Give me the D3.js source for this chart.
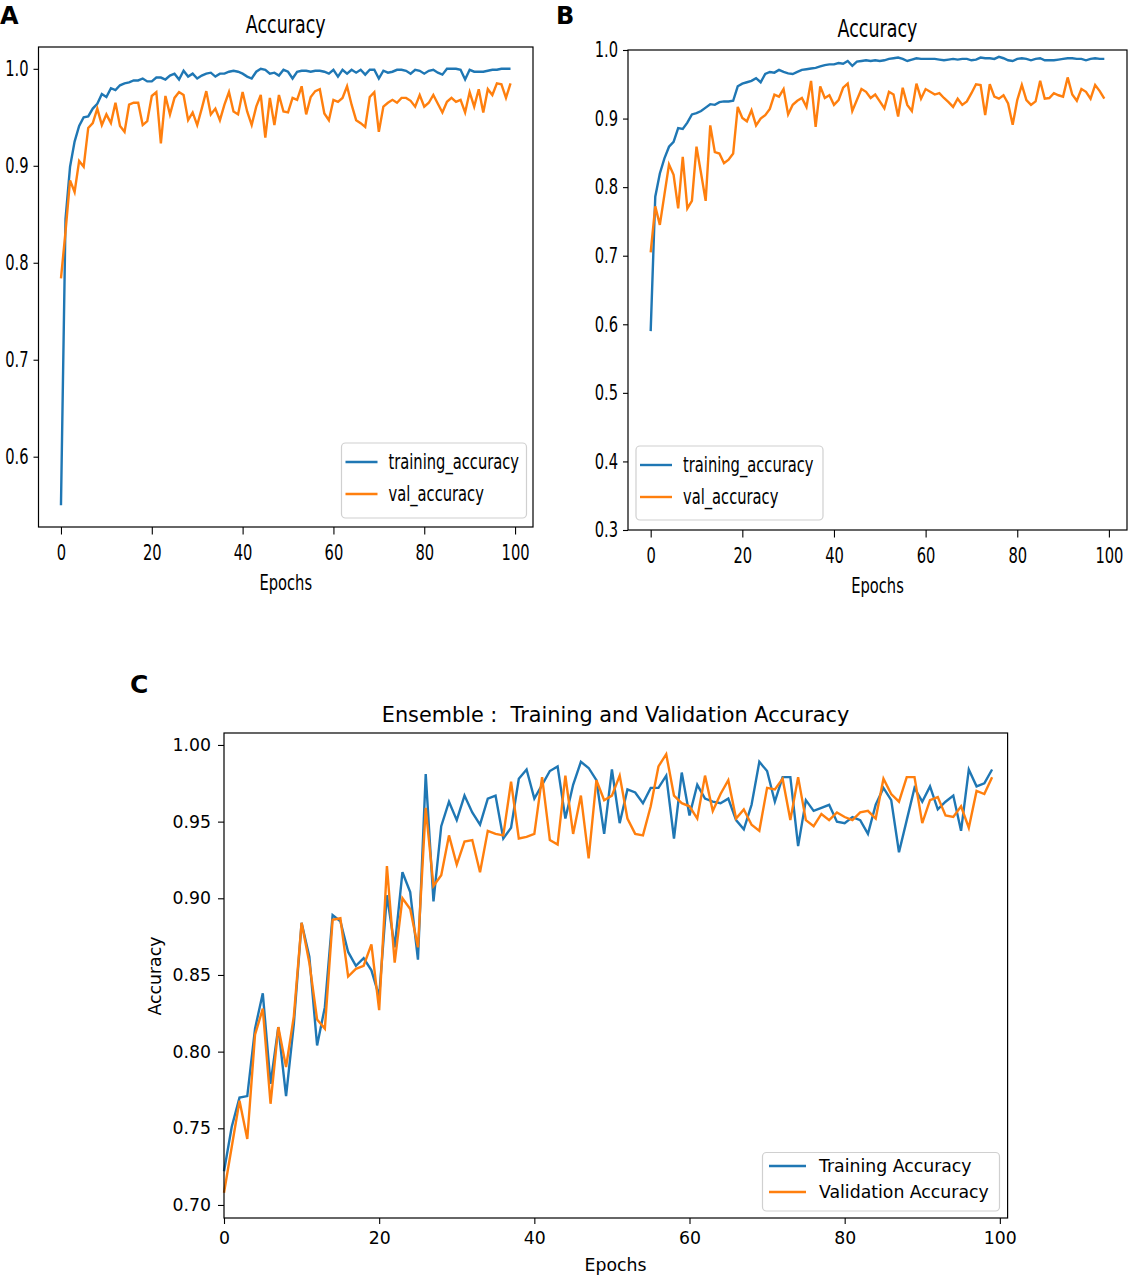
<!DOCTYPE html>
<html>
<head>
<meta charset="utf-8">
<script src="https://cdn.jsdelivr.net/npm/d3@7"></script>
<style>
  body { margin: 0; background: #fff; }
  text { font-family: "DejaVu Sans", sans-serif; fill: #000; }
</style>
</head>
<body>
<div id="chart"></div>
<script>
// Data (epochs 0..99)
const epochs = d3.range(100);

// Panel A
const trainA = [
  0.550, 0.845, 0.899, 0.925, 0.941, 0.950, 0.951, 0.959, 0.964, 0.974,
  0.971, 0.980, 0.978, 0.983, 0.985, 0.986, 0.988, 0.988, 0.990, 0.987,
  0.987, 0.991, 0.991, 0.989, 0.993, 0.995, 0.989, 0.998, 0.992, 0.995,
  0.990, 0.993, 0.995, 0.996, 0.992, 0.995, 0.995, 0.997, 0.998, 0.997,
  0.995, 0.992, 0.990, 0.997, 1.000, 0.999, 0.995, 0.996, 0.993, 0.999,
  0.997, 0.990, 0.997, 0.998, 0.998, 0.997, 0.998, 0.998, 0.997, 0.995,
  0.999, 0.992, 0.999, 0.995, 0.999, 0.996, 0.999, 0.994, 0.999, 0.999,
  0.990, 0.998, 0.996, 0.997, 0.999, 0.999, 0.998, 0.995, 0.999, 0.998,
  0.995, 0.998, 0.999, 0.996, 0.994, 1.000, 1.000, 1.000, 0.999, 0.989,
  0.999, 0.997, 0.997, 0.997, 0.998, 0.999, 0.999, 1.000, 1.000, 1.000
];
const valA = [
  0.784, 0.832, 0.885, 0.873, 0.905, 0.899, 0.939, 0.944, 0.959, 0.942,
  0.953, 0.944, 0.965, 0.941, 0.935, 0.963, 0.965, 0.965, 0.942, 0.946,
  0.972, 0.976, 0.923, 0.972, 0.953, 0.970, 0.976, 0.973, 0.947, 0.955,
  0.942, 0.959, 0.977, 0.953, 0.959, 0.947, 0.963, 0.976, 0.956, 0.953,
  0.976, 0.956, 0.942, 0.961, 0.973, 0.929, 0.970, 0.942, 0.973, 0.956,
  0.955, 0.970, 0.968, 0.982, 0.953, 0.971, 0.977, 0.979, 0.954, 0.947,
  0.968, 0.966, 0.970, 0.982, 0.963, 0.947, 0.944, 0.940, 0.971, 0.976,
  0.935, 0.961, 0.965, 0.968, 0.965, 0.970, 0.970, 0.967, 0.961, 0.973,
  0.961, 0.965, 0.973, 0.964, 0.955, 0.966, 0.970, 0.966, 0.968, 0.955,
  0.976, 0.961, 0.979, 0.955, 0.979, 0.973, 0.985, 0.984, 0.970, 0.985
];

// Panel B
const trainB = [
  0.590, 0.786, 0.820, 0.842, 0.859, 0.866, 0.886, 0.885, 0.894, 0.906,
  0.908, 0.911, 0.916, 0.921, 0.920, 0.924, 0.925, 0.925, 0.926, 0.947,
  0.951, 0.953, 0.955, 0.959, 0.953, 0.965, 0.968, 0.967, 0.971, 0.968,
  0.966, 0.965, 0.968, 0.971, 0.972, 0.973, 0.974, 0.976, 0.978, 0.979,
  0.979, 0.981, 0.980, 0.984, 0.977, 0.983, 0.984, 0.985, 0.984, 0.985,
  0.984, 0.985, 0.987, 0.988, 0.989, 0.987, 0.984, 0.986, 0.988, 0.987,
  0.987, 0.987, 0.987, 0.986, 0.985, 0.986, 0.987, 0.986, 0.987, 0.987,
  0.985, 0.986, 0.989, 0.988, 0.988, 0.987, 0.990, 0.988, 0.985, 0.984,
  0.987, 0.988, 0.987, 0.985, 0.987, 0.988, 0.985, 0.985, 0.985, 0.986,
  0.987, 0.988, 0.988, 0.987, 0.987, 0.985, 0.987, 0.988, 0.987, 0.987
];
const valB = [
  0.705, 0.772, 0.745, 0.789, 0.833, 0.818, 0.769, 0.844, 0.769, 0.780,
  0.859, 0.820, 0.780, 0.890, 0.851, 0.849, 0.835, 0.840, 0.849, 0.917,
  0.901, 0.896, 0.912, 0.890, 0.900, 0.905, 0.914, 0.935, 0.932, 0.943,
  0.906, 0.920, 0.926, 0.930, 0.917, 0.955, 0.888, 0.947, 0.930, 0.934,
  0.920, 0.927, 0.945, 0.951, 0.911, 0.927, 0.943, 0.939, 0.930, 0.935,
  0.925, 0.915, 0.939, 0.935, 0.903, 0.945, 0.920, 0.911, 0.951, 0.929,
  0.943, 0.939, 0.935, 0.937, 0.930, 0.924, 0.917, 0.929, 0.920, 0.925,
  0.937, 0.950, 0.949, 0.905, 0.950, 0.932, 0.929, 0.934, 0.922, 0.891,
  0.927, 0.949, 0.927, 0.920, 0.925, 0.955, 0.929, 0.930, 0.937, 0.934,
  0.932, 0.960, 0.935, 0.926, 0.943, 0.939, 0.929, 0.949, 0.940, 0.929
];

// Panel C (ensemble)
const trainC = [
  0.722, 0.751, 0.770, 0.771, 0.815, 0.838, 0.779, 0.816, 0.771, 0.818,
  0.884, 0.862, 0.804, 0.829, 0.889, 0.885, 0.865, 0.856, 0.861, 0.853,
  0.836, 0.902, 0.868, 0.917, 0.904, 0.860, 0.981, 0.898, 0.947, 0.963,
  0.951, 0.967, 0.956, 0.948, 0.965, 0.967, 0.939, 0.946, 0.978, 0.984,
  0.965, 0.974, 0.983, 0.986, 0.952, 0.974, 0.989, 0.985, 0.977, 0.942,
  0.984, 0.949, 0.971, 0.969, 0.962, 0.972, 0.972, 0.980, 0.939, 0.982,
  0.954, 0.974, 0.965, 0.963, 0.962, 0.965, 0.951, 0.945, 0.961, 0.989,
  0.983, 0.963, 0.979, 0.979, 0.934, 0.964, 0.957, 0.959, 0.961, 0.950,
  0.949, 0.953, 0.951, 0.942, 0.961, 0.972, 0.964, 0.930, 0.951, 0.972,
  0.963, 0.973, 0.958, 0.963, 0.967, 0.944, 0.984, 0.973, 0.975, 0.984
];
const valC = [
  0.708, 0.738, 0.768, 0.743, 0.811, 0.828, 0.766, 0.816, 0.790, 0.823,
  0.884, 0.858, 0.821, 0.815, 0.886, 0.887, 0.849, 0.854, 0.856, 0.870,
  0.827, 0.921, 0.858, 0.900, 0.893, 0.868, 0.959, 0.908, 0.915, 0.941,
  0.922, 0.937, 0.938, 0.917, 0.944, 0.942, 0.941, 0.976, 0.939, 0.940,
  0.942, 0.979, 0.938, 0.935, 0.980, 0.942, 0.967, 0.926, 0.977, 0.964,
  0.967, 0.980, 0.952, 0.942, 0.941, 0.960, 0.986, 0.994, 0.967, 0.962,
  0.960, 0.952, 0.980, 0.957, 0.968, 0.977, 0.952, 0.958, 0.948, 0.944,
  0.972, 0.971, 0.978, 0.951, 0.979, 0.951, 0.947, 0.955, 0.951, 0.956,
  0.953, 0.951, 0.956, 0.957, 0.952, 0.978, 0.968, 0.963, 0.979, 0.979,
  0.949, 0.964, 0.966, 0.954, 0.953, 0.960, 0.946, 0.970, 0.968, 0.979
];

// Tick values
const epochTicks = [0, 20, 40, 60, 80, 100];
const yTicksA = [0.6, 0.7, 0.8, 0.9, 1.0];
const yTicksB = [0.3, 0.4, 0.5, 0.6, 0.7, 0.8, 0.9, 1.0];
const yTicksC = [0.70, 0.75, 0.80, 0.85, 0.90, 0.95, 1.00];

const blue = "#1f77b4", orange = "#ff7f0e";

const svg = d3.select("#chart").append("svg")
    .attr("width", 1135)
    .attr("height", 1278);

svg.append("rect").attr("width", 1135).attr("height", 1278).attr("fill", "#fff");

// panels A and B look horizontally squashed: scale text glyphs only
function squeeze(sel, sx) {
    sel.each(function() {
        const t = d3.select(this);
        const x = +t.attr("x") || 0;
        t.attr("x", x / sx).attr("transform", "scale(" + sx + ",1)");
    });
}

// Small panels (A, B)
function smallPanel(opt) {
    const sx = 0.70;
    const g = svg.append("g");
    const x = opt.x, y = opt.y;
    const x0 = x.range()[0], x1 = x.range()[1];
    const y0 = y.range()[1], y1 = y.range()[0];

    const line = d3.line().x((d, i) => x(epochs[i])).y(d => y(d));

    g.append("path").datum(opt.train)
        .attr("d", line).attr("fill", "none")
        .attr("stroke", blue).attr("stroke-width", 2.4);
    g.append("path").datum(opt.val)
        .attr("d", line).attr("fill", "none")
        .attr("stroke", orange).attr("stroke-width", 2.4);

    const ax = g.append("g")
        .attr("transform", "translate(0," + y1 + ")")
        .call(d3.axisBottom(x).tickValues(epochTicks).tickSize(7.5).tickPadding(11));
    const ay = g.append("g")
        .attr("transform", "translate(" + x0 + ",0)")
        .call(d3.axisLeft(y).tickValues(opt.yTicks).tickFormat(d3.format(".1f")).tickSize(5).tickPadding(5));
    [ax, ay].forEach(a => {
        a.select(".domain").remove();
        a.selectAll("line").attr("stroke", "#000").attr("stroke-width", 1.1);
        a.selectAll("text").attr("font-size", 21).attr("font-family", "DejaVu Sans").attr("fill", "#000");
        squeeze(a.selectAll("text"), sx);
    });

    g.append("rect")
        .attr("x", x0).attr("y", y0)
        .attr("width", x1 - x0).attr("height", y1 - y0)
        .attr("fill", "none").attr("stroke", "#000").attr("stroke-width", 1.2);

    // title and x label
    const title = g.append("text")
        .attr("x", (x0 + x1) / 2).attr("y", opt.titleY)
        .attr("text-anchor", "middle").attr("font-size", 25)
        .text("Accuracy");
    const xl = g.append("text")
        .attr("x", (x0 + x1) / 2).attr("y", opt.labelY)
        .attr("text-anchor", "middle").attr("font-size", 21)
        .text("Epochs");
    squeeze(title, sx);
    squeeze(xl, sx);

    // legend
    const L = opt.legend;
    g.append("rect")
        .attr("x", L.x).attr("y", L.y).attr("width", L.w).attr("height", L.h)
        .attr("rx", 4).attr("fill", "#fff").attr("fill-opacity", 0.8)
        .attr("stroke", "#d0d0d0").attr("stroke-width", 1.2);
    [["training_accuracy", blue], ["val_accuracy", orange]].forEach((r, i) => {
        const ly = L.y + 19 + i * 32;
        g.append("line")
            .attr("x1", L.x + 4).attr("x2", L.x + 36)
            .attr("y1", ly).attr("y2", ly)
            .attr("stroke", r[1]).attr("stroke-width", 2.4);
        const t = g.append("text")
            .attr("x", L.x + 47).attr("y", ly + 7)
            .attr("font-size", 21).text(r[0]);
        squeeze(t, sx);
    });

    // panel letter
    g.append("text")
        .attr("x", opt.letterX).attr("y", 24)
        .attr("font-family", "Liberation Sans, Arial, sans-serif")
        .attr("font-weight", "bold").attr("font-size", 24)
        .text(opt.letter);
}

smallPanel({
    letter: "A", letterX: 0,
    x: d3.scaleLinear().domain([-4.95, 103.95]).range([38.5, 533]),
    y: d3.scaleLinear().domain([0.5275, 1.0225]).range([527, 47]),
    train: trainA, val: valA, yTicks: yTicksA,
    titleY: 33, labelY: 590,
    legend: { x: 341.5, y: 443, w: 185, h: 75 }
});

smallPanel({
    letter: "B", letterX: 556,
    x: d3.scaleLinear().domain([-4.95, 103.95]).range([628, 1127]),
    y: d3.scaleLinear().domain([0.3, 1.0]).range([530, 50]),
    train: trainB, val: valB, yTicks: yTicksB,
    titleY: 37, labelY: 593,
    legend: { x: 636, y: 446, w: 187, h: 74 }
});

// Panel C: ensemble
const xC = d3.scaleLinear().domain([0, 101]).range([224, 1007.6]);
const yC = d3.scaleLinear().domain([0.6915, 1.0078]).range([1218, 733]);
const gC = svg.append("g");

const lineC = d3.line().x((d, i) => xC(epochs[i])).y(d => yC(d));
gC.append("path").datum(trainC)
    .attr("d", lineC).attr("fill", "none")
    .attr("stroke", blue).attr("stroke-width", 2.4);
gC.append("path").datum(valC)
    .attr("d", lineC).attr("fill", "none")
    .attr("stroke", orange).attr("stroke-width", 2.4);

const axC = gC.append("g")
    .attr("transform", "translate(0,1218)")
    .call(d3.axisBottom(xC).tickValues(epochTicks).tickSize(6).tickPadding(8));
const ayC = gC.append("g")
    .attr("transform", "translate(224,0)")
    .call(d3.axisLeft(yC).tickValues(yTicksC).tickFormat(d3.format(".2f")).tickSize(6).tickPadding(7));
[axC, ayC].forEach(a => {
    a.select(".domain").remove();
    a.selectAll("line").attr("stroke", "#000").attr("stroke-width", 1.1);
    a.selectAll("text").attr("font-size", 17.3).attr("font-family", "DejaVu Sans").attr("fill", "#000");
});

gC.append("rect")
    .attr("x", 224).attr("y", 733)
    .attr("width", xC.range()[1] - 224).attr("height", 1218 - 733)
    .attr("fill", "none").attr("stroke", "#000").attr("stroke-width", 1.2);

gC.append("text")
    .attr("x", 615.5).attr("y", 722)
    .attr("text-anchor", "middle").attr("font-size", 20.8)
    .style("white-space", "pre")
    .text("Ensemble :  Training and Validation Accuracy");

gC.append("text")
    .attr("x", 615.5).attr("y", 1271)
    .attr("text-anchor", "middle").attr("font-size", 17.3)
    .text("Epochs");

gC.append("text")
    .attr("transform", "translate(161,976) rotate(-90)")
    .attr("text-anchor", "middle").attr("font-size", 17.3)
    .text("Accuracy");

// legend C
gC.append("rect")
    .attr("x", 762.5).attr("y", 1152.5).attr("width", 237).attr("height", 58.5)
    .attr("rx", 4).attr("fill", "#fff").attr("fill-opacity", 0.8)
    .attr("stroke", "#d0d0d0").attr("stroke-width", 1.2);
[["Training Accuracy", blue], ["Validation Accuracy", orange]].forEach((r, i) => {
    const ly = 1166 + i * 26;
    gC.append("line")
        .attr("x1", 769).attr("x2", 806)
        .attr("y1", ly).attr("y2", ly)
        .attr("stroke", r[1]).attr("stroke-width", 2.4);
    gC.append("text")
        .attr("x", 819).attr("y", ly + 6)
        .attr("font-size", 17.3).text(r[0]);
});

gC.append("text")
    .attr("x", 130).attr("y", 693)
    .attr("font-family", "Liberation Sans, Arial, sans-serif")
    .attr("font-weight", "bold").attr("font-size", 25)
    .text("C");
</script>
</body>
</html>
